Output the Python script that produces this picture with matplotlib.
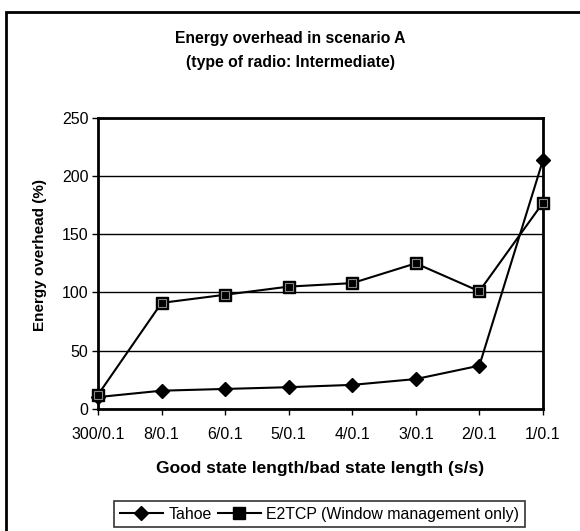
import matplotlib.pyplot as plt
import matplotlib.patches as patches

plt.rcParams['font.family'] = ['Liberation Sans', 'DejaVu Sans']

# data
states = ['300/0.1', '8/0.1', '6/0.1', '5/0.1', '4/0.1', '3/0.1', '2/0.1', '1/0.1']
tahoe = [10, 15.5, 17, 18.5, 20.5, 25.5, 37, 213.5]
e2tcp = [12, 91, 98, 105, 108, 125, 101, 177]

fig = plt.figure(figsize=(5.8, 5.31), dpi=100)
ax = fig.add_axes([0.169, 0.2303, 0.767, 0.5475])

x = list(range(len(states)))

# gridlines
ax.set_ylim(0, 250)
ax.set_xlim(0, len(states) - 1)
ax.set_yticks([0, 50, 100, 150, 200, 250])
ax.yaxis.grid(True, color='black', lw=1)
ax.set_axisbelow(True)

ax.plot(x, tahoe, '-', color='black', lw=1.5, marker='D', ms=7.5,
        mfc='black', mec='black', label='Tahoe', clip_on=False, zorder=3)
ax.plot(x, e2tcp, '-', color='black', lw=1.5, marker='s', ms=8,
        mfc='black', mec='black', label='E2TCP (Window management only)',
        clip_on=False, zorder=3)
# lighter ring inside the square markers
ax.plot(x, e2tcp, ls='none', marker='s', ms=5.5, mfc='black', mec='#888888',
        mew=0.8, clip_on=False, zorder=4)

ax.set_xticks(x)
ax.set_xticklabels(states)
ax.tick_params(axis='both', direction='out', length=4, width=1,
               labelsize=11.5, colors='black')
ax.tick_params(axis='x', pad=9)
ax.tick_params(axis='y', pad=3)
for s in ax.spines.values():
    s.set_linewidth(2)
    s.set_color('black')

ax.set_xlabel('Good state length/bad state length (s/s)', fontsize=12.5,
              fontweight='bold', labelpad=14)
ax.set_ylabel('Energy overhead (%)', fontsize=11, fontweight='bold')
ax.yaxis.set_label_coords(-0.114, 0.528)

fig.text(0.5, 1 - 38 / 531, 'Energy overhead in scenario A', ha='center',
         va='center', fontsize=11.3, fontweight='bold')
fig.text(0.5, 1 - 62 / 531, '(type of radio: Intermediate)', ha='center',
         va='center', fontsize=11.3, fontweight='bold')

leg = fig.legend(loc='upper center', bbox_to_anchor=(319.5 / 580, 1 - 501 / 531),
                 ncol=2, fontsize=11.4, frameon=True, fancybox=False,
                 handlelength=2.7, columnspacing=0.4, handletextpad=0.35,
                 borderpad=0.35, borderaxespad=0)
leg.get_frame().set_edgecolor('black')
leg.get_frame().set_linewidth(1.2)

# outer chart border
fig.patches.append(patches.Rectangle((6 / 580, -0.05), 1.2, 1 - 12 / 531 + 0.05,
                                     transform=fig.transFigure, fill=False,
                                     edgecolor='black', lw=2))

fig.savefig('out.png', dpi=100)
